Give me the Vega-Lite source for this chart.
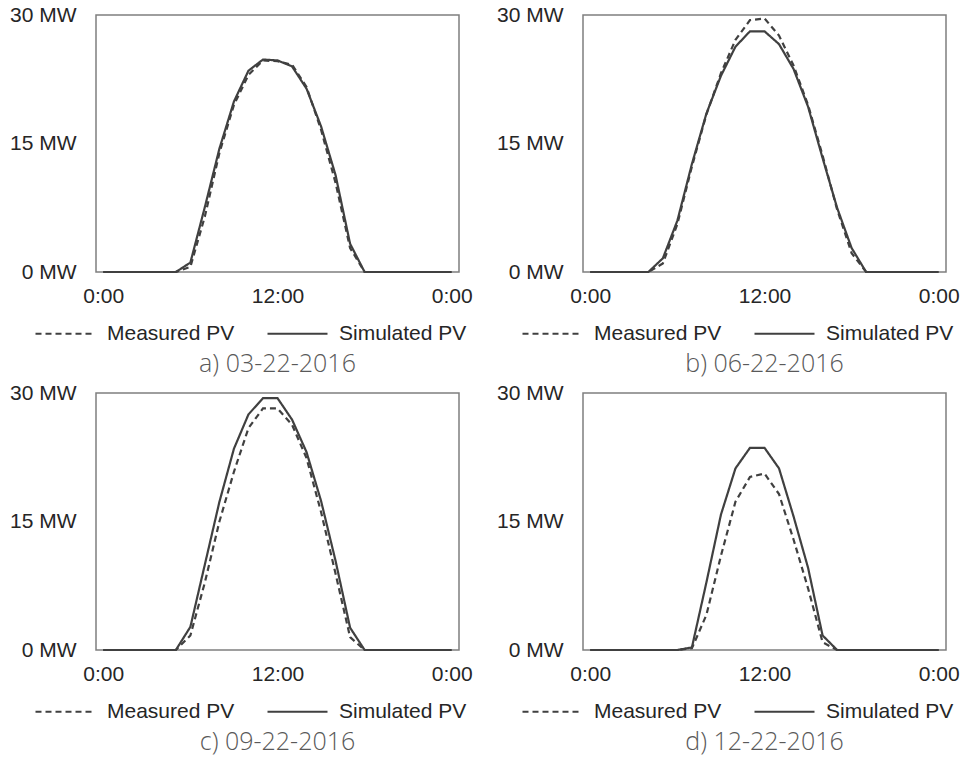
{
  "$schema": "https://vega.github.io/schema/vega-lite/v6.json",
  "background": "white",
  "padding": {"left": 8, "top": 3, "right": 0, "bottom": 0},
  "datasets": {
    "pv": [
      {"panel": "a", "hour": 0, "Measured PV": 0, "Simulated PV": 0},
      {"panel": "a", "hour": 1, "Measured PV": 0, "Simulated PV": 0},
      {"panel": "a", "hour": 2, "Measured PV": 0, "Simulated PV": 0},
      {"panel": "a", "hour": 3, "Measured PV": 0, "Simulated PV": 0},
      {"panel": "a", "hour": 4, "Measured PV": 0, "Simulated PV": 0},
      {"panel": "a", "hour": 5, "Measured PV": 0, "Simulated PV": 0},
      {"panel": "a", "hour": 6, "Measured PV": 0.6, "Simulated PV": 1.1},
      {"panel": "a", "hour": 7, "Measured PV": 6.5, "Simulated PV": 7.6},
      {"panel": "a", "hour": 8, "Measured PV": 13.9, "Simulated PV": 14.4},
      {"panel": "a", "hour": 9, "Measured PV": 19.5, "Simulated PV": 19.9},
      {"panel": "a", "hour": 10, "Measured PV": 23.0, "Simulated PV": 23.5},
      {"panel": "a", "hour": 11, "Measured PV": 24.7, "Simulated PV": 24.8},
      {"panel": "a", "hour": 12, "Measured PV": 24.6, "Simulated PV": 24.7},
      {"panel": "a", "hour": 13, "Measured PV": 24.2, "Simulated PV": 24.0},
      {"panel": "a", "hour": 14, "Measured PV": 21.6, "Simulated PV": 21.4},
      {"panel": "a", "hour": 15, "Measured PV": 16.6, "Simulated PV": 17.0},
      {"panel": "a", "hour": 16, "Measured PV": 10.4, "Simulated PV": 11.3},
      {"panel": "a", "hour": 17, "Measured PV": 2.8, "Simulated PV": 3.3},
      {"panel": "a", "hour": 18, "Measured PV": 0, "Simulated PV": 0},
      {"panel": "a", "hour": 19, "Measured PV": 0, "Simulated PV": 0},
      {"panel": "a", "hour": 20, "Measured PV": 0, "Simulated PV": 0},
      {"panel": "a", "hour": 21, "Measured PV": 0, "Simulated PV": 0},
      {"panel": "a", "hour": 22, "Measured PV": 0, "Simulated PV": 0},
      {"panel": "a", "hour": 23, "Measured PV": 0, "Simulated PV": 0},
      {"panel": "a", "hour": 24, "Measured PV": 0, "Simulated PV": 0},

      {"panel": "b", "hour": 0, "Measured PV": 0, "Simulated PV": 0},
      {"panel": "b", "hour": 1, "Measured PV": 0, "Simulated PV": 0},
      {"panel": "b", "hour": 2, "Measured PV": 0, "Simulated PV": 0},
      {"panel": "b", "hour": 3, "Measured PV": 0, "Simulated PV": 0},
      {"panel": "b", "hour": 4, "Measured PV": 0, "Simulated PV": 0},
      {"panel": "b", "hour": 5, "Measured PV": 1.0, "Simulated PV": 1.6},
      {"panel": "b", "hour": 6, "Measured PV": 5.6, "Simulated PV": 6.0},
      {"panel": "b", "hour": 7, "Measured PV": 12.3, "Simulated PV": 12.6},
      {"panel": "b", "hour": 8, "Measured PV": 18.4, "Simulated PV": 18.5},
      {"panel": "b", "hour": 9, "Measured PV": 23.2, "Simulated PV": 22.9},
      {"panel": "b", "hour": 10, "Measured PV": 27.1, "Simulated PV": 26.3},
      {"panel": "b", "hour": 11, "Measured PV": 29.4, "Simulated PV": 28.1},
      {"panel": "b", "hour": 12, "Measured PV": 29.6, "Simulated PV": 28.1},
      {"panel": "b", "hour": 13, "Measured PV": 27.6, "Simulated PV": 26.6},
      {"panel": "b", "hour": 14, "Measured PV": 24.1, "Simulated PV": 23.7},
      {"panel": "b", "hour": 15, "Measured PV": 19.5, "Simulated PV": 19.3},
      {"panel": "b", "hour": 16, "Measured PV": 13.6, "Simulated PV": 13.3},
      {"panel": "b", "hour": 17, "Measured PV": 7.3, "Simulated PV": 7.5},
      {"panel": "b", "hour": 18, "Measured PV": 2.2, "Simulated PV": 2.8},
      {"panel": "b", "hour": 19, "Measured PV": 0, "Simulated PV": 0},
      {"panel": "b", "hour": 20, "Measured PV": 0, "Simulated PV": 0},
      {"panel": "b", "hour": 21, "Measured PV": 0, "Simulated PV": 0},
      {"panel": "b", "hour": 22, "Measured PV": 0, "Simulated PV": 0},
      {"panel": "b", "hour": 23, "Measured PV": 0, "Simulated PV": 0},
      {"panel": "b", "hour": 24, "Measured PV": 0, "Simulated PV": 0},

      {"panel": "c", "hour": 0, "Measured PV": 0, "Simulated PV": 0},
      {"panel": "c", "hour": 1, "Measured PV": 0, "Simulated PV": 0},
      {"panel": "c", "hour": 2, "Measured PV": 0, "Simulated PV": 0},
      {"panel": "c", "hour": 3, "Measured PV": 0, "Simulated PV": 0},
      {"panel": "c", "hour": 4, "Measured PV": 0, "Simulated PV": 0},
      {"panel": "c", "hour": 5, "Measured PV": 0, "Simulated PV": 0},
      {"panel": "c", "hour": 6, "Measured PV": 1.7, "Simulated PV": 2.7},
      {"panel": "c", "hour": 7, "Measured PV": 7.9, "Simulated PV": 10.0},
      {"panel": "c", "hour": 8, "Measured PV": 15.0, "Simulated PV": 17.3},
      {"panel": "c", "hour": 9, "Measured PV": 20.8, "Simulated PV": 23.5},
      {"panel": "c", "hour": 10, "Measured PV": 25.9, "Simulated PV": 27.5},
      {"panel": "c", "hour": 11, "Measured PV": 28.2, "Simulated PV": 29.4},
      {"panel": "c", "hour": 12, "Measured PV": 28.2, "Simulated PV": 29.4},
      {"panel": "c", "hour": 13, "Measured PV": 26.3, "Simulated PV": 26.9},
      {"panel": "c", "hour": 14, "Measured PV": 22.4, "Simulated PV": 23.1},
      {"panel": "c", "hour": 15, "Measured PV": 16.1, "Simulated PV": 17.4},
      {"panel": "c", "hour": 16, "Measured PV": 8.9, "Simulated PV": 10.4},
      {"panel": "c", "hour": 17, "Measured PV": 1.5, "Simulated PV": 2.6},
      {"panel": "c", "hour": 18, "Measured PV": 0, "Simulated PV": 0},
      {"panel": "c", "hour": 19, "Measured PV": 0, "Simulated PV": 0},
      {"panel": "c", "hour": 20, "Measured PV": 0, "Simulated PV": 0},
      {"panel": "c", "hour": 21, "Measured PV": 0, "Simulated PV": 0},
      {"panel": "c", "hour": 22, "Measured PV": 0, "Simulated PV": 0},
      {"panel": "c", "hour": 23, "Measured PV": 0, "Simulated PV": 0},
      {"panel": "c", "hour": 24, "Measured PV": 0, "Simulated PV": 0},

      {"panel": "d", "hour": 0, "Measured PV": 0, "Simulated PV": 0},
      {"panel": "d", "hour": 1, "Measured PV": 0, "Simulated PV": 0},
      {"panel": "d", "hour": 2, "Measured PV": 0, "Simulated PV": 0},
      {"panel": "d", "hour": 3, "Measured PV": 0, "Simulated PV": 0},
      {"panel": "d", "hour": 4, "Measured PV": 0, "Simulated PV": 0},
      {"panel": "d", "hour": 5, "Measured PV": 0, "Simulated PV": 0},
      {"panel": "d", "hour": 6, "Measured PV": 0, "Simulated PV": 0},
      {"panel": "d", "hour": 7, "Measured PV": 0.2, "Simulated PV": 0.3},
      {"panel": "d", "hour": 8, "Measured PV": 4.1, "Simulated PV": 7.9},
      {"panel": "d", "hour": 9, "Measured PV": 11.0, "Simulated PV": 15.8},
      {"panel": "d", "hour": 10, "Measured PV": 17.3, "Simulated PV": 21.2},
      {"panel": "d", "hour": 11, "Measured PV": 20.2, "Simulated PV": 23.6},
      {"panel": "d", "hour": 12, "Measured PV": 20.6, "Simulated PV": 23.6},
      {"panel": "d", "hour": 13, "Measured PV": 18.2, "Simulated PV": 21.2},
      {"panel": "d", "hour": 14, "Measured PV": 12.9, "Simulated PV": 15.6},
      {"panel": "d", "hour": 15, "Measured PV": 7.2, "Simulated PV": 9.6},
      {"panel": "d", "hour": 16, "Measured PV": 0.9, "Simulated PV": 1.7},
      {"panel": "d", "hour": 17, "Measured PV": 0, "Simulated PV": 0},
      {"panel": "d", "hour": 18, "Measured PV": 0, "Simulated PV": 0},
      {"panel": "d", "hour": 19, "Measured PV": 0, "Simulated PV": 0},
      {"panel": "d", "hour": 20, "Measured PV": 0, "Simulated PV": 0},
      {"panel": "d", "hour": 21, "Measured PV": 0, "Simulated PV": 0},
      {"panel": "d", "hour": 22, "Measured PV": 0, "Simulated PV": 0},
      {"panel": "d", "hour": 23, "Measured PV": 0, "Simulated PV": 0},
      {"panel": "d", "hour": 24, "Measured PV": 0, "Simulated PV": 0}
    ]
  },
  "data": {"name": "pv"},
  "columns": 2,
  "bounds": "flush",
  "spacing": {"row": 121, "column": 124},
  "concat": [
    {
      "title": "a) 03-22-2016",
      "width": 363, "height": 257,
      "transform": [
        {"filter": "datum.panel === 'a'"},
        {"fold": ["Measured PV", "Simulated PV"], "as": ["series", "mw"]}
      ],
      "mark": {"type": "line", "strokeWidth": 2.2, "color": "#404040"},
      "encoding": {
        "x": {"field": "hour", "type": "quantitative", "scale": {"domain": [-0.5, 24.5], "nice": false, "zero": false},
              "axis": {"values": [0, 12, 24], "labelExpr": "datum.value == 12 ? '12:00' : '0:00'", "title": null}},
        "y": {"field": "mw", "type": "quantitative", "scale": {"domain": [0, 30], "nice": false},
              "axis": {"values": [0, 15, 30], "labelExpr": "datum.value + ' MW'", "title": null}},
        "strokeDash": {"field": "series", "type": "nominal",
                       "scale": {"domain": ["Measured PV", "Simulated PV"], "range": [[6, 4], [1, 0]]},
                       "legend": {"title": null, "orient": "none", "legendX": -62, "legendY": 287, "direction": "horizontal"}}
      }
    },
    {
      "title": "b) 06-22-2016",
      "width": 363, "height": 257,
      "transform": [
        {"filter": "datum.panel === 'b'"},
        {"fold": ["Measured PV", "Simulated PV"], "as": ["series", "mw"]}
      ],
      "mark": {"type": "line", "strokeWidth": 2.2, "color": "#404040"},
      "encoding": {
        "x": {"field": "hour", "type": "quantitative", "scale": {"domain": [-0.5, 24.5], "nice": false, "zero": false},
              "axis": {"values": [0, 12, 24], "labelExpr": "datum.value == 12 ? '12:00' : '0:00'", "title": null}},
        "y": {"field": "mw", "type": "quantitative", "scale": {"domain": [0, 30], "nice": false},
              "axis": {"values": [0, 15, 30], "labelExpr": "datum.value + ' MW'", "title": null}},
        "strokeDash": {"field": "series", "type": "nominal",
                       "scale": {"domain": ["Measured PV", "Simulated PV"], "range": [[6, 4], [1, 0]]},
                       "legend": {"title": null, "orient": "none", "legendX": -62, "legendY": 287, "direction": "horizontal"}}
      }
    },
    {
      "title": "c) 09-22-2016",
      "width": 363, "height": 257,
      "transform": [
        {"filter": "datum.panel === 'c'"},
        {"fold": ["Measured PV", "Simulated PV"], "as": ["series", "mw"]}
      ],
      "mark": {"type": "line", "strokeWidth": 2.2, "color": "#404040"},
      "encoding": {
        "x": {"field": "hour", "type": "quantitative", "scale": {"domain": [-0.5, 24.5], "nice": false, "zero": false},
              "axis": {"values": [0, 12, 24], "labelExpr": "datum.value == 12 ? '12:00' : '0:00'", "title": null}},
        "y": {"field": "mw", "type": "quantitative", "scale": {"domain": [0, 30], "nice": false},
              "axis": {"values": [0, 15, 30], "labelExpr": "datum.value + ' MW'", "title": null}},
        "strokeDash": {"field": "series", "type": "nominal",
                       "scale": {"domain": ["Measured PV", "Simulated PV"], "range": [[6, 4], [1, 0]]},
                       "legend": {"title": null, "orient": "none", "legendX": -62, "legendY": 287, "direction": "horizontal"}}
      }
    },
    {
      "title": "d) 12-22-2016",
      "width": 363, "height": 257,
      "transform": [
        {"filter": "datum.panel === 'd'"},
        {"fold": ["Measured PV", "Simulated PV"], "as": ["series", "mw"]}
      ],
      "mark": {"type": "line", "strokeWidth": 2.2, "color": "#404040"},
      "encoding": {
        "x": {"field": "hour", "type": "quantitative", "scale": {"domain": [-0.5, 24.5], "nice": false, "zero": false},
              "axis": {"values": [0, 12, 24], "labelExpr": "datum.value == 12 ? '12:00' : '0:00'", "title": null}},
        "y": {"field": "mw", "type": "quantitative", "scale": {"domain": [0, 30], "nice": false},
              "axis": {"values": [0, 15, 30], "labelExpr": "datum.value + ' MW'", "title": null}},
        "strokeDash": {"field": "series", "type": "nominal",
                       "scale": {"domain": ["Measured PV", "Simulated PV"], "range": [[6, 4], [1, 0]]},
                       "legend": {"title": null, "orient": "none", "legendX": -62, "legendY": 287, "direction": "horizontal"}}
      }
    }
  ],
  "resolve": {"legend": {"strokeDash": "independent"}, "scale": {"x": "independent", "y": "independent"}},
  "config": {
    "view": {"stroke": "#7f7f7f", "strokeWidth": 1.5},
    "axis": {
      "grid": false, "domain": false, "ticks": false, "tickSize": 0,
      "labelFont": "Liberation Sans", "labelFontSize": 21, "labelColor": "#262626"
    },
    "axisX": {"labelPadding": 13, "labelFlush": false},
    "axisY": {"labelPadding": 20},
    "legend": {
      "symbolType": "stroke", "symbolSize": 3600, "symbolStrokeWidth": 2.2, "symbolStrokeColor": "#404040",
      "labelFont": "Liberation Sans", "labelFontSize": 21, "labelColor": "#262626",
      "labelOffset": 10, "columnPadding": 28, "padding": 0, "labelLimit": 300
    },
    "title": {
      "orient": "bottom", "anchor": "middle", "frame": "group", "offset": 8,
      "font": "Open Sans", "fontWeight": 300, "fontSize": 25, "color": "#595959"
    }
  }
}
